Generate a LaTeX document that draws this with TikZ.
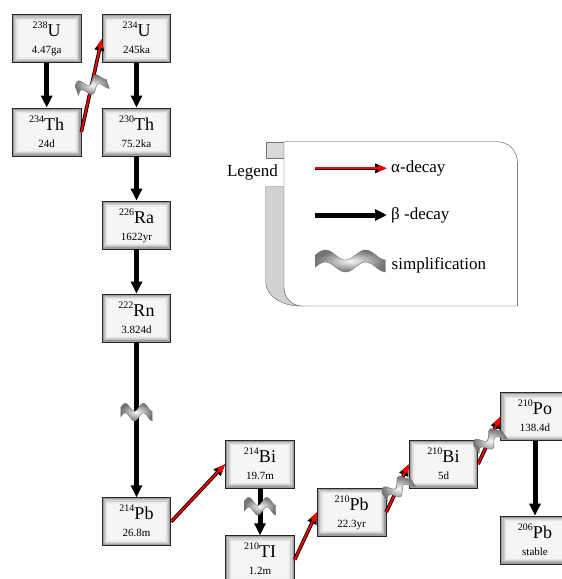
\documentclass[tikz,border=0pt]{standalone}
\usepackage{fontspec}
\setmainfont{Liberation Serif}
\usepackage{tikz}
\usetikzlibrary{arrows.meta,positioning,calc}

\tikzset{squiggle/.pic={
  \shade[inner color=black!3, outer color=black!55, draw=black!55, line width=0.4pt]
    plot[domain=0:1, samples=40, smooth] ({70*\x-35}, {-6-5*sin(626*\x)})
    -- plot[domain=1:0, samples=40, smooth] ({70*\x-35}, {6-5*sin(626*\x)}) -- cycle;
}}

\begin{document}
\begin{tikzpicture}[x=1pt,y=-1pt]
\tikzstyle{nuclide}=[draw=black!85, line width=0.8pt, fill=black!4,
  minimum width=68.5pt, minimum height=48pt, inner sep=0pt,
  text height=39pt, text depth=9pt, align=center,
  font=\fontsize{11}{17}\selectfont,
  path picture={\foreach \d/\c in {1/38,2.2/26,3.4/17,4.6/10,5.8/5}
    \draw[black!\c, line width=1.3pt] ([shift={(\d pt,\d pt)}]path picture bounding box.south west)
      rectangle ([shift={(-\d pt,-\d pt)}]path picture bounding box.north east);}]
\tikzstyle{beta}=[draw=black, line width=5pt, -{Triangle[length=12pt,width=11pt]}]
\tikzstyle{alphaarrow}=[draw=red, line width=1.8pt, -{Triangle[length=9pt,width=6pt]},
  preaction={draw=black, line width=3.6pt, -{Triangle[length=12pt,width=9pt]}}]
\tikzstyle{legendtext}=[inner sep=4pt, font=\fontsize{17}{20}\selectfont]
\def\nucl#1#2#3{\raisebox{8pt}{\fontsize{10}{10}\selectfont #1}{\fontsize{18}{17}\selectfont #2}\\#3}
\def\ColA{46.7}
\def\ColB{136.5}
\useasboundingbox (0,0) rectangle (562,579);
% uranium column
\node[nuclide] (U238) at (\ColA,38.8) {\nucl{238}{U}{4.47ga}};
\node[nuclide] (Th234) at (\ColA,132) {\nucl{234}{Th}{24d}};
\node[nuclide] (U234) at (\ColB,38.8) {\nucl{234}{U}{245ka}};
\node[nuclide] (Th230) at (\ColB,132) {\nucl{230}{Th}{75.2ka}};
\node[nuclide] (Ra226) at (\ColB,225) {\nucl{226}{Ra}{1622yr}};
\node[nuclide] (Rn222) at (\ColB,318) {\nucl{222}{Rn}{3.824d}};
\node[nuclide] (Pb214) at (\ColB,521.7) {\nucl{214}{Pb}{26.8m}};
% lower chain
\node[nuclide] (Bi214) at (260,464) {\nucl{214}{Bi}{19.7m}};
\node[nuclide] (Tl210) at (260,559.7) {\nucl{210}{TI}{1.2m}};
\node[nuclide] (Pb210) at (351.7,512) {\nucl{210}{Pb}{22.3yr}};
\node[nuclide] (Bi210) at (443.5,464) {\nucl{210}{Bi}{5d}};
\node[nuclide] (Po210) at (535,416.7) {\nucl{210}{Po}{138.4d}};
\node[nuclide] (Pb206) at (535,540) {\nucl{206}{Pb}{stable}};
% decays
\draw[beta] (U238.south) -- (Th234.north);
\draw[alphaarrow] (Th234.east) -- (U234.west);
\draw[beta] (U234.south) -- (Th230.north);
\draw[beta] (Th230.south) -- (Ra226.north);
\draw[beta] (Ra226.south) -- (Rn222.north);
\draw[beta] (Rn222.south) -- (Pb214.north);
\draw[alphaarrow] (Pb214.east) -- (Bi214.west);
\draw[beta] (Bi214.south) -- (Tl210.north);
\draw[alphaarrow] (Tl210.east) -- (Pb210.west);
\draw[alphaarrow] (Pb210.east) -- (Bi210.west);
\draw[alphaarrow] (Bi210.east) -- (Po210.west);
\draw[beta] (Po210.south) -- (Pb206.north);
% simplifications
\pic[rotate=20, xscale=0.45, yscale=0.8] at ($(Th234.east)!0.5!(U234.west)$) {squiggle};
\pic[xscale=0.45, yscale=0.8] at ($(Rn222.south)!0.45!(Pb214.north)$) {squiggle};
\pic[xscale=0.45, yscale=0.8] at ($(Bi214.south)!0.38!(Tl210.north)$) {squiggle};
\pic[rotate=35, xscale=0.45, yscale=0.8] at ($(Pb210.east)!0.5!(Bi210.west)$) {squiggle};
\pic[rotate=35, xscale=0.45, yscale=0.8] at ($(Bi210.east)!0.5!(Po210.west)$) {squiggle};
% legend
\draw[black!55, fill=black!15] (265.7,141.7) rectangle (284,158.3);
\node[legendtext] (legend) at (252.5,172.7) {Legend};
\draw[black!60, fill=black!18] (265.7,186.7) -- (265.7,282)
  .. controls (265.7,296) and (282,306) .. (300,306) -- (305,306) -- (305,186.7) -- cycle;
\draw[black!75, fill=white] (302,306) -- (517.3,306) -- (517.3,161.7)
  .. controls (517.3,150.7) and (508.3,141.7) .. (497.3,141.7) -- (284,141.7) -- (284,288)
  .. controls (284,298) and (292,306) .. (302,306) -- cycle;
\coordinate (alphafrom) at (315,168.3);
\coordinate (betafrom) at (315,215);
\node[legendtext, anchor=west] (alphalbl) at (387,168.3) {α-decay};
\node[legendtext, anchor=west] (betalbl) at (387,215) {β -decay};
\node[legendtext, anchor=west] (simplbl) at (387.5,265) {simplification};
\draw[alphaarrow] (alphafrom) -- (alphalbl.west);
\draw[beta] (betafrom) -- (betalbl.west);
\pic at (350.3,261) {squiggle};
\end{tikzpicture}
\end{document}
